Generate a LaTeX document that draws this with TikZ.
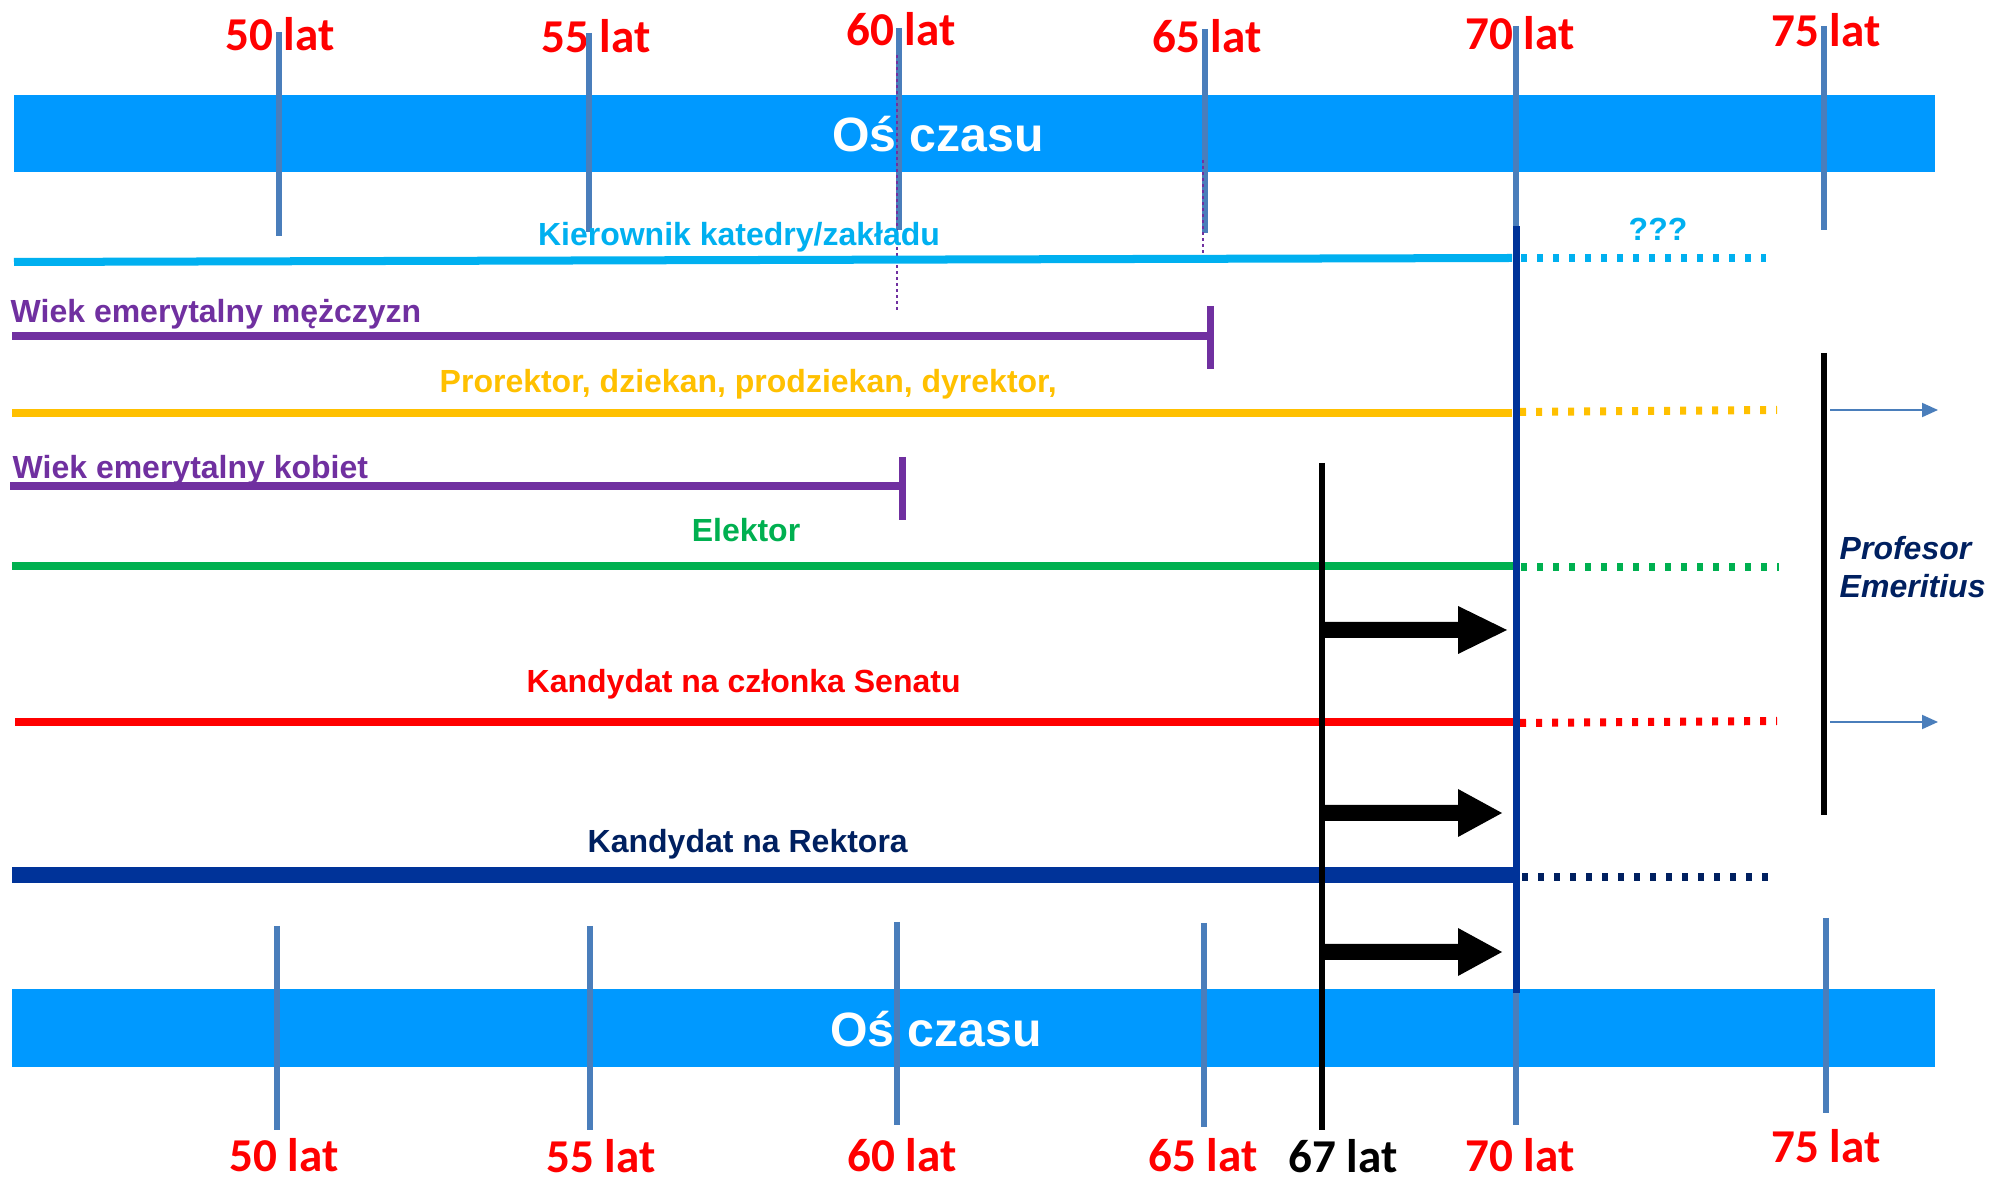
\documentclass[tikz,border=0pt]{standalone}
\usepackage{fontspec}
\setmainfont{Liberation Sans}
\newfontfamily\numfont{Carlito}
\usetikzlibrary{arrows.meta}
\definecolor{barblue}{HTML}{0099FF}
\definecolor{tickblue}{HTML}{4A7EBB}
\definecolor{axred}{HTML}{FF0000}
\definecolor{kcyan}{HTML}{00B0F0}
\definecolor{kpurple}{HTML}{7030A0}
\definecolor{kgold}{HTML}{FFC000}
\definecolor{kgreen}{HTML}{00B050}
\definecolor{kblue}{HTML}{003399}
\definecolor{knavy}{HTML}{002060}
\tikzset{
  lbl/.style={font=\fontsize{9.1}{11}\selectfont\bfseries, inner sep=0},
  agelbl/.style={font=\numfont\fontsize{13.4}{16}\selectfont\bfseries, text=axred, inner sep=0, anchor=base},
  axlbl/.style={font=\fontsize{13.7}{16}\selectfont\bfseries, text=white, inner sep=0, anchor=base},
  tickline/.style={draw=tickblue, line width=0.06cm},
  solidline/.style={line width=0.08cm},
  dotline/.style={line width=0.08cm, dash pattern=on 0.06cm off 0.10cm},
  endtick/.style={draw=kpurple, line width=0.07cm},
  thinarrow/.style={draw=tickblue, line width=0.02cm, -{Triangle[length=0.16cm,width=0.14cm]}},
  bigarrow/.style={fill=black},
}
\begin{document}
\begin{tikzpicture}[x=0.01cm,y=-0.01cm]
\useasboundingbox (0,0) rectangle (1997,1180);
% bars
\fill[barblue] (14,95) rectangle (1935,172);
\fill[barblue] (12,989) rectangle (1935,1067);
\node[axlbl] (axtop) at (938,152) {Oś czasu};
\node[axlbl] (axbot) at (936,1047) {Oś czasu};
% top age labels
\node[agelbl] (t50) at (280,51) {50 lat};
\node[agelbl] (t55) at (596,53) {55 lat};
\node[agelbl] (t60) at (901,46) {60 lat};
\node[agelbl] (t65) at (1207,53) {65 lat};
\node[agelbl] (t70) at (1520,50) {70 lat};
\node[agelbl] (t75) at (1826,47) {75 lat};
% bottom age labels
\node[agelbl] (b50) at (284,1171) {50 lat};
\node[agelbl] (b55) at (601,1172) {55 lat};
\node[agelbl] (b60) at (902,1171) {60 lat};
\node[agelbl] (b65) at (1203,1171) {65 lat};
\node[agelbl, text=black] (b67) at (1343,1172) {67 lat};
\node[agelbl] (b70) at (1520,1171) {70 lat};
\node[agelbl] (b75) at (1826,1162) {75 lat};
% ticks
\draw[tickline] (279,32) -- (279,236);
\draw[tickline] (589,33) -- (589,232);
\draw[tickline] (899,28) -- (899,230);
\draw[tickline] (1205,29) -- (1205,233);
\draw[tickline] (1516,26) -- (1516,230);
\draw[tickline] (1824,26) -- (1824,230);
\draw[tickline] (277,926) -- (277,1130);
\draw[tickline] (590,926) -- (590,1130);
\draw[tickline] (897,922) -- (897,1125);
\draw[tickline] (1204,923) -- (1204,1127);
\draw[tickline] (1516,923) -- (1516,1125);
\draw[tickline] (1826,918) -- (1826,1113);
% thin dotted purple guides
\draw[kpurple, line width=0.015cm, dash pattern=on 0.03cm off 0.03cm] (897,55) -- (897,313);
\draw[kpurple, line width=0.015cm, dash pattern=on 0.03cm off 0.03cm] (1203,160) -- (1203,253);
% labels
\node[lbl, text=kcyan, anchor=base] (kier) at (739,246) {Kierownik katedry/zakładu};
\node[lbl, text=kcyan, anchor=base] (qqq) at (1658,241) {???};
\node[lbl, text=kpurple, anchor=base west] (wm) at (10,323) {Wiek emerytalny mężczyzn};
\node[lbl, text=kgold, anchor=base west] (pro) at (439,393) {Prorektor, dziekan, prodziekan, dyrektor,};
\node[lbl, text=kpurple, anchor=base west] (wk) at (12,479) {Wiek emerytalny kobiet};
\node[lbl, text=kgreen, anchor=base] (el) at (746,542) {Elektor};
\node[lbl, text=axred, anchor=base west] (sen) at (526,693) {Kandydat na członka Senatu};
\node[lbl, text=knavy, anchor=base west] (rek) at (587,853) {Kandydat na Rektora};
\node[lbl, text=knavy, anchor=base west, font=\fontsize{9.1}{11}\selectfont\bfseries\itshape] (prof1) at (1839,560) {Profesor};
\node[lbl, text=knavy, anchor=base west, font=\fontsize{9.1}{11}\selectfont\bfseries\itshape] (prof2) at (1839,598) {Emeritius};
% horizontal lines
\draw[solidline, kcyan] (14,262) -- (1512,258);
\draw[dotline, kcyan] (1521,258) -- (1766,258);
\draw[solidline, kpurple] (12,336) -- (1207,336);
\draw[endtick] (1210,306) -- (1210,369);
\draw[solidline, kgold] (12,413) -- (1512,413);
\draw[dotline, kgold] (1520,412) -- (1777,410);
\draw[solidline, kpurple] (10,486) -- (899,486);
\draw[endtick] (902,457) -- (902,520);
\draw[solidline, kgreen] (12,566) -- (1516,566);
\draw[dotline, kgreen] (1521,567) -- (1779,567);
\draw[solidline, axred] (15,722) -- (1514,722);
\draw[dotline, axred] (1520,723) -- (1777,721);
\draw[kblue, line width=0.16cm] (12,875) -- (1516,875);
\draw[dotline, knavy] (1522,877) -- (1777,877);
% verticals
\draw[kblue, line width=0.07cm] (1516,226) -- (1516,993);
\draw[black, line width=0.06cm] (1322,463) -- (1322,1130);
\draw[black, line width=0.065cm] (1824,353) -- (1824,815);
% big arrows
\foreach \cy/\tip in {630/1507, 813/1502, 952/1502} {
  \fill[bigarrow] (1325,\cy-8) -- (1458,\cy-8) -- (1458,\cy-24) -- (\tip,\cy) -- (1458,\cy+24) -- (1458,\cy+8) -- (1325,\cy+8) -- cycle;
}
% thin arrows
\draw[thinarrow] (1830,410) -- (1938,410);
\draw[thinarrow] (1830,722) -- (1938,722);
\end{tikzpicture}
\end{document}
